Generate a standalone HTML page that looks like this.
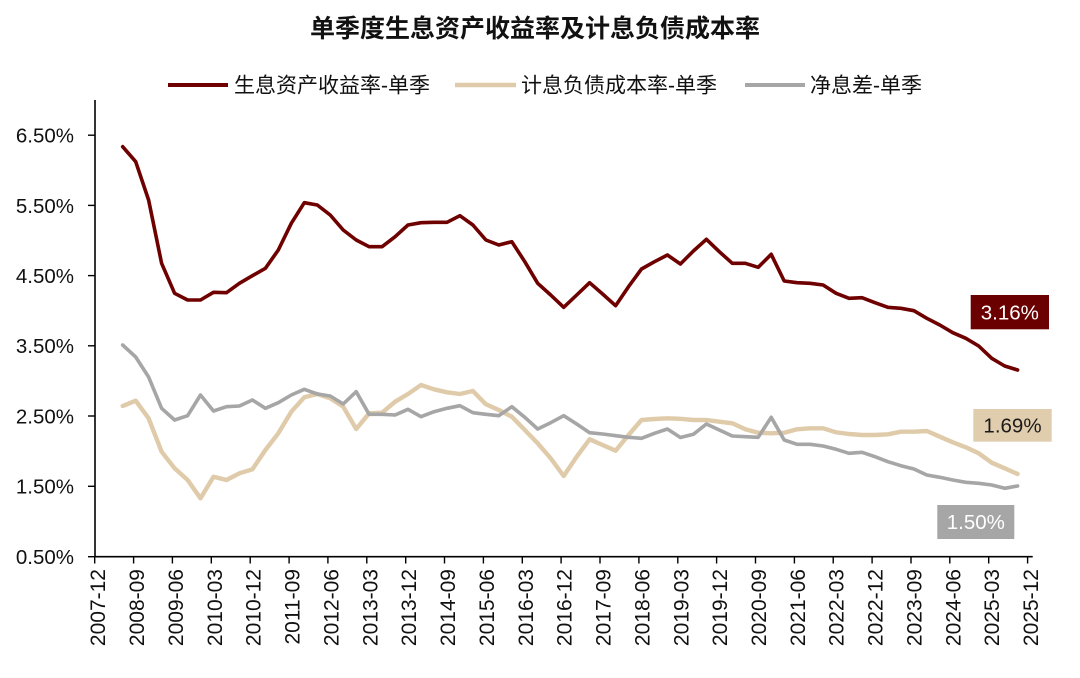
<!DOCTYPE html>
<html>
<head>
<meta charset="utf-8">
<style>
html,body{margin:0;padding:0;background:#fff;}
svg{display:block;}
text{font-family:"Liberation Sans","Noto Sans CJK SC",sans-serif;}
</style>
</head>
<body>
<svg width="1080" height="678" viewBox="0 0 1080 678" xmlns="http://www.w3.org/2000/svg">
<rect width="1080" height="678" fill="#fff"/>
<text x="535" y="37" text-anchor="middle" font-size="25" font-weight="bold" fill="#111">单季度生息资产收益率及计息负债成本率</text>

<!-- legend -->
<line x1="168" y1="85" x2="228" y2="85" stroke="#6E0000" stroke-width="4"/>
<text x="234" y="92.5" font-size="21" fill="#111">生息资产收益率-单季</text>
<line x1="455" y1="85" x2="516" y2="85" stroke="#DFCBA9" stroke-width="4.5"/>
<text x="521" y="92.5" font-size="21" fill="#111">计息负债成本率-单季</text>
<line x1="745" y1="85" x2="805" y2="85" stroke="#A6A6A6" stroke-width="4"/>
<text x="810" y="92.5" font-size="21" fill="#111">净息差-单季</text>

<!-- y axis -->
<line x1="95" y1="100" x2="95" y2="557.5" stroke="#000" stroke-width="1.6"/>
<g stroke="#000" stroke-width="1.4">
<line x1="88" y1="135.2" x2="95" y2="135.2"/>
<line x1="88" y1="205.4" x2="95" y2="205.4"/>
<line x1="88" y1="275.6" x2="95" y2="275.6"/>
<line x1="88" y1="345.8" x2="95" y2="345.8"/>
<line x1="88" y1="416" x2="95" y2="416"/>
<line x1="88" y1="486.3" x2="95" y2="486.3"/>
<line x1="88" y1="556.7" x2="95" y2="556.7"/>
</g>
<g font-size="20.5" fill="#111" text-anchor="end">
<text x="74" y="142.6">6.50%</text>
<text x="74" y="212.8">5.50%</text>
<text x="74" y="283">4.50%</text>
<text x="74" y="353.2">3.50%</text>
<text x="74" y="423.4">2.50%</text>
<text x="74" y="493.7">1.50%</text>
<text x="74" y="564.1">0.50%</text>
</g>

<!-- x axis -->
<line x1="94.2" y1="556.7" x2="1032.7" y2="556.7" stroke="#000" stroke-width="1.6"/>
<g stroke="#000" stroke-width="1.4">
<line x1="94.7" y1="556.7" x2="94.7" y2="563.5"/>
<line x1="133.6" y1="556.7" x2="133.6" y2="563.5"/>
<line x1="172.4" y1="556.7" x2="172.4" y2="563.5"/>
<line x1="211.3" y1="556.7" x2="211.3" y2="563.5"/>
<line x1="250.2" y1="556.7" x2="250.2" y2="563.5"/>
<line x1="289.1" y1="556.7" x2="289.1" y2="563.5"/>
<line x1="327.9" y1="556.7" x2="327.9" y2="563.5"/>
<line x1="366.8" y1="556.7" x2="366.8" y2="563.5"/>
<line x1="405.7" y1="556.7" x2="405.7" y2="563.5"/>
<line x1="444.5" y1="556.7" x2="444.5" y2="563.5"/>
<line x1="483.4" y1="556.7" x2="483.4" y2="563.5"/>
<line x1="522.3" y1="556.7" x2="522.3" y2="563.5"/>
<line x1="561.1" y1="556.7" x2="561.1" y2="563.5"/>
<line x1="600" y1="556.7" x2="600" y2="563.5"/>
<line x1="638.9" y1="556.7" x2="638.9" y2="563.5"/>
<line x1="677.8" y1="556.7" x2="677.8" y2="563.5"/>
<line x1="716.6" y1="556.7" x2="716.6" y2="563.5"/>
<line x1="755.5" y1="556.7" x2="755.5" y2="563.5"/>
<line x1="794.4" y1="556.7" x2="794.4" y2="563.5"/>
<line x1="833.2" y1="556.7" x2="833.2" y2="563.5"/>
<line x1="872.1" y1="556.7" x2="872.1" y2="563.5"/>
<line x1="911" y1="556.7" x2="911" y2="563.5"/>
<line x1="949.8" y1="556.7" x2="949.8" y2="563.5"/>
<line x1="988.7" y1="556.7" x2="988.7" y2="563.5"/>
<line x1="1027.6" y1="556.7" x2="1027.6" y2="563.5"/>
</g>
<g font-size="21" fill="#111" text-anchor="end">
<text transform="translate(105.2,569) rotate(-90)">2007-12</text>
<text transform="translate(144.1,569) rotate(-90)">2008-09</text>
<text transform="translate(182.9,569) rotate(-90)">2009-06</text>
<text transform="translate(221.8,569) rotate(-90)">2010-03</text>
<text transform="translate(260.7,569) rotate(-90)">2010-12</text>
<text transform="translate(299.6,569) rotate(-90)">2011-09</text>
<text transform="translate(338.4,569) rotate(-90)">2012-06</text>
<text transform="translate(377.3,569) rotate(-90)">2013-03</text>
<text transform="translate(416.2,569) rotate(-90)">2013-12</text>
<text transform="translate(455,569) rotate(-90)">2014-09</text>
<text transform="translate(493.9,569) rotate(-90)">2015-06</text>
<text transform="translate(532.8,569) rotate(-90)">2016-03</text>
<text transform="translate(571.6,569) rotate(-90)">2016-12</text>
<text transform="translate(610.5,569) rotate(-90)">2017-09</text>
<text transform="translate(649.4,569) rotate(-90)">2018-06</text>
<text transform="translate(688.3,569) rotate(-90)">2019-03</text>
<text transform="translate(727.1,569) rotate(-90)">2019-12</text>
<text transform="translate(766,569) rotate(-90)">2020-09</text>
<text transform="translate(804.9,569) rotate(-90)">2021-06</text>
<text transform="translate(843.7,569) rotate(-90)">2022-03</text>
<text transform="translate(882.6,569) rotate(-90)">2022-12</text>
<text transform="translate(921.5,569) rotate(-90)">2023-09</text>
<text transform="translate(960.3,569) rotate(-90)">2024-06</text>
<text transform="translate(999.2,569) rotate(-90)">2025-03</text>
<text transform="translate(1038.1,569) rotate(-90)">2025-12</text>
</g>

<!-- red series -->
<polyline fill="none" stroke="#6E0000" stroke-width="3.6" stroke-linejoin="round" stroke-linecap="round" points="
122.7,146.7 135.7,161.7 148.6,200 161.6,263.3 174.6,293.3 187.6,300 200.5,300 213.5,292.3 226.5,292.7 239.4,283.3
252.4,275.7 265.4,268.3 278.3,250 291.3,223.3 304.3,202.7 317.3,205 330.2,215 343.2,230 356.2,240 369.1,246.7
382.1,246.7 395.1,236.7 408,225 421,222.7 434,222.3 447,222.3 459.9,215.7 472.9,225 485.9,240 498.8,245
511.8,241.7 524.8,261.7 537.7,283.3 550.7,295 563.7,307.3 576.7,295 589.6,282.7 602.6,294 615.6,305.7 628.5,286.7
641.5,269 654.5,261.7 667.4,255 680.4,264 693.4,251 706.4,239.3 719.3,251.7 732.3,263.3 745.3,263.3 758.2,267.3
771.2,254.3 784.2,281 797.1,282.7 810.1,283.3 823.1,285 836.1,293.3 849,298.3 862,297.7 875,302.7 887.9,307.3
900.9,308.3 913.9,310.7 926.8,318.3 939.8,325 952.8,332.7 965.8,338.3 978.7,346 991.7,358.3 1004.7,366 1017.6,370"/>

<!-- tan series -->
<polyline fill="none" stroke="#DFCBA9" stroke-width="4.4" stroke-linejoin="round" stroke-linecap="round" points="
122.7,406 135.7,400.7 148.6,418.3 161.6,451.7 174.6,468.3 187.6,480 200.5,498.3 213.5,476.7 226.5,480 239.4,473.3
252.4,469.3 265.4,450 278.3,433.3 291.3,411.7 304.3,397.3 317.3,394 330.2,398.3 343.2,406.7 356.2,429 369.1,413.3
382.1,412.7 395.1,401.7 408,394 421,385 434,389.3 447,392.3 459.9,394 472.9,391 485.9,404.3 498.8,410
511.8,416.7 524.8,430 537.7,443.3 550.7,458.3 563.7,476 576.7,456.7 589.6,439.3 602.6,445 615.6,450.7 628.5,435
641.5,420 654.5,419 667.4,418.3 680.4,418.8 693.4,420 706.4,420 719.3,421.7 732.3,423.3 745.3,429.3 758.2,432.7
771.2,433.3 784.2,432.7 797.1,429.3 810.1,428.3 823.1,428.3 836.1,432.3 849,434 862,435 875,435 887.9,434.3
900.9,431.7 913.9,431.7 926.8,431 939.8,436.7 952.8,442.3 965.8,447.3 978.7,453.3 991.7,462.7 1004.7,468.3 1017.6,474"/>

<!-- gray series -->
<polyline fill="none" stroke="#A6A6A6" stroke-width="3.6" stroke-linejoin="round" stroke-linecap="round" points="
122.7,345 135.7,357 148.6,377 161.6,408.3 174.6,420 187.6,415.7 200.5,395 213.5,411 226.5,406.7 239.4,406
252.4,400 265.4,408.3 278.3,402.7 291.3,395 304.3,389.3 317.3,394 330.2,396 343.2,404 356.2,391.7 369.1,414.3
382.1,414.3 395.1,415 408,409.3 421,416.7 434,411.7 447,408.3 459.9,405.7 472.9,412.7 485.9,414.3 498.8,415.7
511.8,406.7 524.8,417.3 537.7,429 550.7,422.7 563.7,415.7 576.7,424 589.6,432.7 602.6,434 615.6,435.7 628.5,437.3
641.5,438.3 654.5,433.3 667.4,429 680.4,437.5 693.4,434.3 706.4,424 719.3,430 732.3,436 745.3,436.7 758.2,437.3
771.2,417.3 784.2,440 797.1,444.3 810.1,444.3 823.1,446 836.1,449.3 849,453.3 862,452.3 875,456.7 887.9,461.7
900.9,465.7 913.9,469 926.8,475 939.8,477.3 952.8,480 965.8,482.3 978.7,483.3 991.7,485 1004.7,488.3 1017.6,486"/>

<!-- value labels -->
<rect x="970.7" y="295" width="78.3" height="34.3" fill="#6B0000"/>
<text x="1009.8" y="319.3" text-anchor="middle" font-size="20.5" fill="#fff">3.16%</text>
<rect x="973.3" y="409" width="78.4" height="32.7" fill="#E0CDAE"/>
<text x="1012.5" y="432.4" text-anchor="middle" font-size="20.5" fill="#1a1a1a">1.69%</text>
<rect x="937.3" y="505" width="77" height="34" fill="#A6A6A6"/>
<text x="975.8" y="529.2" text-anchor="middle" font-size="20.5" fill="#fff">1.50%</text>
</svg>
</body>
</html>
